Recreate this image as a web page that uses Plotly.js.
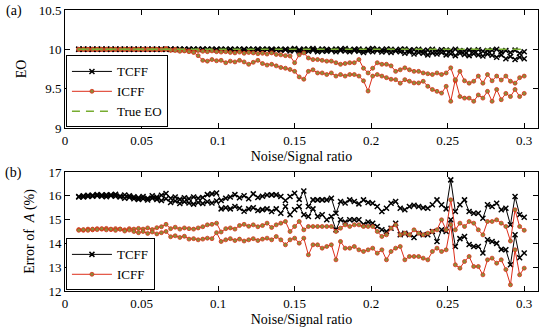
<!DOCTYPE html>
<html>
<head>
<meta charset="utf-8">
<script src="https://cdn.plot.ly/plotly-3.0.1.min.js"></script>
<style>html,body{margin:0;padding:0;background:#fff;}#chart{width:550px;height:334px;}</style>
</head>
<body>
<div id="chart"></div>
<script>
// Noise/Signal ratio sample points
const ratio = [0.009,0.012,0.015,0.018,0.021,0.024,0.027,0.030,0.033,0.036,0.039,0.042,0.045,0.048,0.051,0.054,0.057,0.060,0.063,0.066,0.069,0.072,0.075,0.078,0.081,0.084,0.087,0.090,0.093,0.096,0.099,0.102,0.105,0.108,0.111,0.114,0.117,0.120,0.123,0.126,0.129,0.132,0.135,0.138,0.141,0.144,0.147,0.150,0.153,0.156,0.159,0.162,0.165,0.168,0.171,0.174,0.177,0.180,0.183,0.186,0.189,0.192,0.195,0.198,0.201,0.204,0.207,0.210,0.213,0.216,0.219,0.222,0.225,0.228,0.231,0.234,0.237,0.240,0.243,0.246,0.249,0.252,0.255,0.258,0.261,0.264,0.267,0.270,0.273,0.276,0.279,0.282,0.285,0.288,0.291,0.294,0.297,0.300];

// (a) EO estimates
const eoTCFF1 = [10,10,10,10,10,10,10,10,10,10,10,10,10,10,10,10,10,10,10,10,10,10,10,10,10,10,10,10,10,10,10,10,10,10,10,10,10,10,10,10,10,10,10,10,10,10,
  10.0,10.01,9.995,10.005,10.0,10.01,9.995,10.005,10.0,9.99,10.005,10.0,10.01,9.995,10.0,10.005,9.99,10.0,10.01,10.0,9.995,10.005,10.0,9.99,10.0,10.005,9.99,9.995,10.0,9.985,9.99,10.0,9.98,9.995,9.99,9.985,10.0,9.985,9.975,9.99,9.98,9.995,9.975,9.985,9.99,10.0,9.97,9.985,9.96,9.99,9.95,9.97];
const eoTCFF2 = [10,10,10,10,10,10,10,10,10,10,10,10,10,10,10,10,10,10,10,10,10,10,10,10,10,10,10,10,10,10,9.995,10,9.995,10,9.995,10,9.995,10,9.995,10,9.995,10,9.99,9.995,9.99,9.995,
  9.98,9.99,9.97,9.985,9.975,9.99,9.97,9.98,9.975,9.99,9.97,9.985,9.98,9.97,9.985,9.975,9.96,9.98,9.97,9.985,9.965,9.975,9.96,9.98,9.97,9.95,9.965,9.94,9.96,9.95,9.93,9.955,9.94,9.96,9.93,9.945,9.92,9.95,9.935,9.92,9.945,9.93,9.915,9.94,9.925,9.9,9.93,9.88,9.91,9.87,9.9,9.88];
const eoICFF1 = [10,10,10,10,10,10,10,10,10,10,10,10,10,10,10,10,10,10,
  9.995,10.01,9.99,10.0,9.99,9.985,
  9.98,9.97,9.985,9.975,9.97,9.98,9.97,
  9.965,9.97,9.96,9.955,9.965,9.95,9.96,9.955,9.945,
  9.95,9.94,9.955,9.935,9.93,9.92,
  9.915,9.83,9.93,9.955,9.89,9.87,9.87,9.86,9.85,9.85,9.83,9.81,9.82,9.83,9.83,9.87,9.76,9.70,9.76,9.83,9.81,9.81,9.79,9.72,9.74,9.765,9.74,9.72,9.72,9.70,9.69,9.68,9.70,9.68,9.70,9.765,9.60,9.72,9.60,9.57,9.595,9.66,9.57,9.68,9.60,9.66,9.61,9.66,9.595,9.57,9.64,9.66];
const eoICFF2 = [10,10,10,10,10,10,10,10,10,10,10,10,10,10,10,10,10,10,10,10,
  9.99,9.985,9.975,9.98,9.97,9.96,
  9.92,9.86,9.85,9.87,9.855,9.86,9.83,9.85,9.84,9.86,9.84,9.81,9.835,9.86,9.82,9.8,9.81,9.79,9.77,9.76,
  9.744,9.72,9.65,9.62,9.72,9.74,9.70,9.70,9.68,9.70,9.66,9.68,9.66,9.68,9.68,9.66,9.60,9.47,9.66,9.68,9.66,9.64,9.62,9.615,9.57,9.615,9.595,9.573,9.573,9.594,9.53,9.49,9.466,9.444,9.53,9.34,9.615,9.40,9.38,9.38,9.34,9.42,9.38,9.466,9.34,9.49,9.36,9.44,9.40,9.49,9.40,9.44];
const trueEO = 10;

// (b) Error of A (%)
const errTCFF1 = [15.95,16.0,15.97,16.02,16.05,15.98,16.04,16.0,16.06,15.99,16.03,16.0,15.96,
  15.93,15.97,15.9,16.0,15.95,16.02,16.1,
  15.9,15.95,15.85,15.92,
  15.88,15.95,15.9,15.93,16.05,16.08,
  16.12,15.8,
  15.9,15.95,16.05,15.92,16.0,15.88,16.08,15.93,15.98,16.03,
  16.04,16.04,15.97,15.8,15.97,16.11,15.85,16.2,15.55,15.83,15.83,15.83,15.83,15.9,15.27,15.76,15.7,15.83,15.76,15.66,15.83,15.72,15.69,15.55,15.34,15.48,15.69,15.76,15.48,15.41,15.55,15.6,15.55,15.5,15.48,15.62,15.83,15.62,15.45,16.67,15.34,15.62,15.83,15.34,15.27,15.27,15.06,15.62,15.55,15.69,15.41,15.48,14.78,15.97,15.2,15.1];
const errTCFF2 = [15.97,15.95,16.02,15.98,16.0,16.03,15.96,16.04,15.98,15.95,15.9,15.93,15.88,
  15.85,15.88,15.82,15.9,15.85,15.8,15.88,
  15.72,15.78,15.68,15.75,
  15.7,15.65,15.72,15.68,15.75,15.7,
  15.78,15.45,
  15.5,15.45,15.55,15.48,15.35,15.45,15.5,15.38,15.42,15.45,
  15.34,15.45,15.27,15.55,15.2,15.41,15.55,15.2,15.13,15.45,15.13,15.2,14.99,15.13,14.57,14.99,14.9,14.99,14.99,14.99,14.8,14.9,14.85,14.71,14.57,14.5,14.64,14.85,14.36,14.43,14.36,14.25,14.43,14.36,14.36,14.5,14.08,14.57,14.5,14.99,13.87,14.2,14.29,13.95,13.87,13.87,13.6,14.15,14.08,14.0,13.75,13.73,13.1,14.36,13.4,13.6];
const errICFF1 = [14.58,14.55,14.6,14.57,14.62,14.6,14.63,14.58,14.62,14.6,14.57,14.62,14.6,
  14.63,14.6,14.65,14.58,14.66,14.7,14.8,
  14.62,14.68,14.6,14.65,
  14.62,14.6,14.65,14.7,14.78,14.8,
  14.85,14.48,
  14.62,14.65,14.6,14.75,14.8,14.72,14.78,14.7,14.75,14.85,
  14.67,14.78,14.85,14.92,14.5,14.71,14.92,14.57,14.71,14.71,14.71,14.71,14.71,14.71,14.5,14.64,14.78,14.71,14.78,14.78,14.71,14.71,14.71,14.5,14.29,14.36,14.64,14.78,14.36,14.43,14.36,14.57,14.43,14.36,14.43,14.5,14.57,14.99,14.57,15.83,14.57,14.85,14.71,14.92,14.85,14.57,14.36,14.92,14.92,14.99,14.85,14.71,14.1,15.41,14.71,14.55];
const errICFF2 = [14.55,14.58,14.55,14.6,14.58,14.62,14.57,14.6,14.55,14.6,14.52,14.56,14.5,
  14.45,14.5,14.42,14.48,14.4,14.45,14.5,
  14.28,14.32,14.25,14.3,
  14.18,14.2,14.15,14.18,14.22,14.2,
  14.45,14.08,
  14.15,14.2,14.12,14.18,14.1,14.15,14.2,14.12,14.18,14.22,
  14.15,14.29,14.15,13.94,14.15,14.22,14.01,14.22,13.52,13.94,13.94,13.8,13.87,13.94,13.31,14.08,13.8,13.8,13.87,13.73,13.66,13.73,13.8,13.59,13.73,13.31,13.66,13.8,13.87,13.31,13.45,13.45,13.45,13.38,13.31,13.66,13.8,13.66,13.73,14.78,13.1,12.96,13.24,13.45,13.03,13.03,12.68,13.31,13.38,13.17,13.31,12.9,12.26,13.73,12.68,12.96];

const xTickVals = [0,0.05,0.1,0.15,0.2,0.25,0.3];
const xTickText = ['0','0.05','0.1','0.15','0.2','0.25','0.3'];
const yTickValsA = [9,9.5,10,10.5];
const yTickTextA = ['9','9.5','10','10.5'];
const yTickValsB = [12,13,14,15,16,17];

const black = '#000000';
const icffLine = '#DD2E1A';
const icffMarker = '#8f8a38';
const green = '#77AC30';

function tcff(y, xa, ya, show, legend) {
  return {x: ratio, y: y, xaxis: xa, yaxis: ya, type: 'scatter', mode: 'lines+markers',
    name: 'TCFF', showlegend: show, legend: legend, legendgroup: 'tcff' + legend,
    line: {color: black, width: 1},
    marker: {symbol: 'x-thin-open', size: 5, color: black, line: {color: black, width: 1.5}}};
}
function icff(y, xa, ya, show, legend) {
  return {x: ratio, y: y, xaxis: xa, yaxis: ya, type: 'scatter', mode: 'lines+markers',
    name: 'ICFF', showlegend: show, legend: legend, legendgroup: 'icff' + legend,
    line: {color: icffLine, width: 1},
    marker: {symbol: 'circle', size: 4, color: icffMarker, line: {color: icffLine, width: 0.8}}};
}

const traces = [
  tcff(eoTCFF1, 'x', 'y', true, 'legend'),
  tcff(eoTCFF2, 'x', 'y', false, 'legend'),
  icff(eoICFF1, 'x', 'y', true, 'legend'),
  icff(eoICFF2, 'x', 'y', false, 'legend'),
  {x: [ratio[0], ratio[ratio.length - 1]], y: [trueEO, trueEO], xaxis: 'x', yaxis: 'y', type: 'scatter', mode: 'lines',
    name: 'True EO', legend: 'legend', line: {color: green, width: 1.5, dash: '8px,6px'}},
  tcff(errTCFF1, 'x2', 'y2', true, 'legend2'),
  tcff(errTCFF2, 'x2', 'y2', false, 'legend2'),
  icff(errICFF1, 'x2', 'y2', true, 'legend2'),
  icff(errICFF2, 'x2', 'y2', false, 'legend2')
];

const fontFam = '"Liberation Serif", "DejaVu Serif", serif';
function xax(anchor) {
  return {domain: [0, 1], anchor: anchor, range: [0, 0.309], tickvals: xTickVals, ticktext: xTickText,
    ticks: 'inside', ticklen: 5, tickcolor: black, showline: true, linecolor: black, linewidth: 1, mirror: 'allticks',
    showgrid: false, zeroline: false, tickfont: {size: 13, color: black},
    title: {text: 'Noise/Signal ratio', font: {size: 14, color: black}, standoff: 4}};
}
const layout = {
  width: 550, height: 334,
  margin: {l: 65, r: 12, t: 10, b: 43},
  paper_bgcolor: '#ffffff', plot_bgcolor: '#ffffff',
  font: {family: fontFam, color: black, size: 13},
  xaxis: xax('y'),
  yaxis: {domain: [0.58, 1], anchor: 'x', range: [9, 10.5], tickvals: yTickValsA, ticktext: yTickTextA,
    ticks: 'inside', ticklen: 5, tickcolor: black, showline: true, linecolor: black, linewidth: 1, mirror: 'allticks',
    showgrid: false, zeroline: false, tickfont: {size: 13, color: black},
    title: {text: 'EO', font: {size: 14, color: black}, standoff: 8}},
  xaxis2: xax('y2'),
  yaxis2: {domain: [0, 0.4235], anchor: 'x2', range: [12, 17], tickvals: yTickValsB,
    ticks: 'inside', ticklen: 5, tickcolor: black, showline: true, linecolor: black, linewidth: 1, mirror: 'allticks',
    showgrid: false, zeroline: false, tickfont: {size: 13, color: black},
    title: {text: 'Error of  <i>A</i> (%)', font: {size: 14, color: black}, standoff: 10}},
  legend: {x: 0.002, y: 0.582, xanchor: 'left', yanchor: 'bottom', bgcolor: '#ffffff', bordercolor: black, borderwidth: 1,
    font: {size: 13, color: black}, tracegroupgap: 0, itemwidth: 40, traceorder: 'normal'},
  legend2: {x: 0.002, y: 0.002, xanchor: 'left', yanchor: 'bottom', bgcolor: '#ffffff', bordercolor: black, borderwidth: 1,
    font: {size: 13, color: black}, tracegroupgap: 0, itemwidth: 40, traceorder: 'normal'},
  annotations: [
    {text: '(a)', xref: 'paper', yref: 'paper', x: -0.108, y: 0.995, xanchor: 'center', yanchor: 'middle', showarrow: false, font: {size: 14, color: black}},
    {text: '(b)', xref: 'paper', yref: 'paper', x: -0.108, y: 0.42, xanchor: 'center', yanchor: 'middle', showarrow: false, font: {size: 14, color: black}}
  ],
  showlegend: true
};

Plotly.newPlot('chart', traces, layout, {displayModeBar: false, staticPlot: true});
</script>
</body>
</html>
